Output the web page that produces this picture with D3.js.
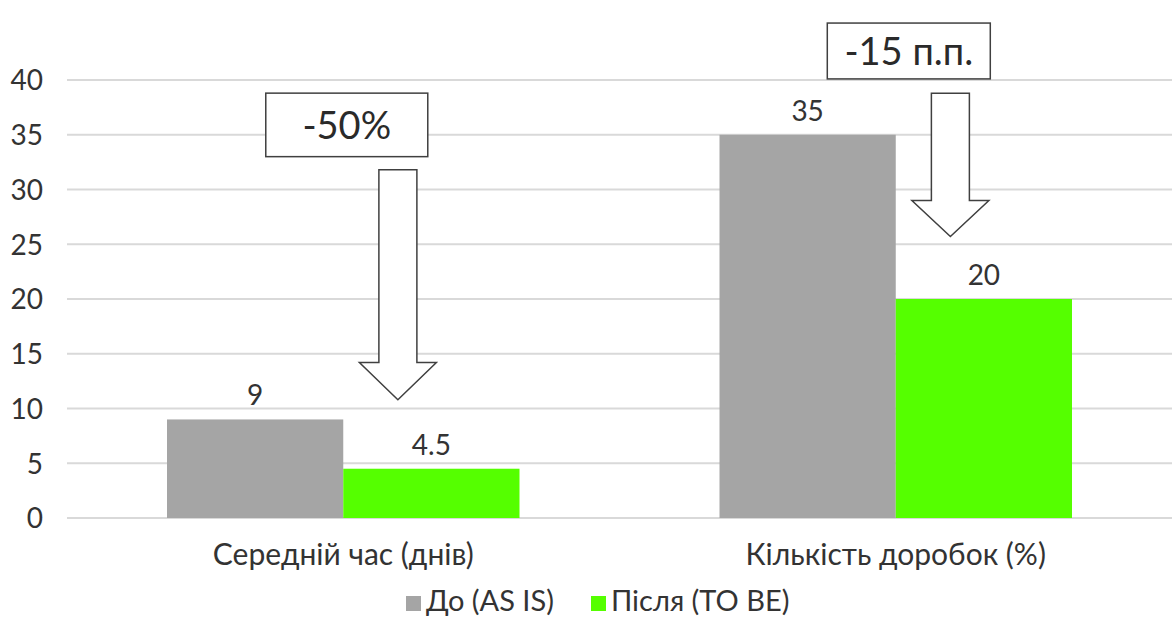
<!DOCTYPE html>
<html>
<head>
<meta charset="utf-8">
<script src="https://cdn.jsdelivr.net/npm/d3@7"></script>
<style>
  html, body { margin: 0; padding: 0; background: #fff; }
  svg { display: block; font-family: Lato, "Open Sans", sans-serif; }
</style>
</head>
<body>
<svg id="chart" width="1176" height="619"></svg>
<script>
// Categories and series
const categories = ["Середній час (днів)", "Кількість доробок (%)"];
const seriesNames = ["До (AS IS)", "Після (TO BE)"];
const beforeValues = [9, 35];
const afterValues = [4.5, 20];
const valueLabels = [["9", "4.5"], ["35", "20"]];
const yTicks = [0, 5, 10, 15, 20, 25, 30, 35, 40];

// Change callouts: text, box span and arrow span on the value axis
const calloutText = ["-50%", "-15 п.п."];
const calloutBoxTop = [38.8, 45.2];
const calloutBoxBottom = [33, 40.1];
const arrowTop = [31.8, 38.8];
const arrowHeadStart = [14.2, 29];
const arrowTip = [10.8, 25.7];

const colors = ["#a5a5a5", "#55ff00"];
const textColor = "#333333";
const fontSize = 28;

const svg = d3.select("#chart");
const margin = { left: 67, right: 4, top: 80, bottom: 101 };
const W = 1176, H = 619;

const x0 = d3.scaleBand()
  .domain(categories)
  .range([margin.left, W - margin.right])
  .paddingInner(0.362)
  .paddingOuter(0.181);

const x1 = d3.scaleBand()
  .domain([0, 1])
  .range([0, x0.bandwidth()]);

const y = d3.scaleLinear()
  .domain([0, 40])
  .range([H - margin.bottom, margin.top]);

// Gridlines
svg.append("g")
  .selectAll("line")
  .data(yTicks)
  .join("line")
  .attr("x1", margin.left)
  .attr("x2", W - margin.right)
  .attr("y1", d => y(d))
  .attr("y2", d => y(d))
  .attr("stroke", "#d9d9d9")
  .attr("stroke-width", 2);

// Y axis labels
const yAxis = svg.append("g")
  .attr("transform", `translate(${margin.left - 24},0)`)
  .call(d3.axisLeft(y).tickValues(yTicks).tickSize(0).tickPadding(0));
yAxis.select(".domain").remove();
yAxis.selectAll("text")
  .attr("font-size", fontSize)
  .attr("font-family", "Lato, 'Open Sans', sans-serif")
  .attr("fill", textColor)
  .attr("dy", "0.35em");

// Bars
const groups = svg.append("g")
  .selectAll("g")
  .data(categories.map((c, i) => ({ c, i, vals: [beforeValues[i], afterValues[i]] })))
  .join("g")
  .attr("transform", d => `translate(${x0(d.c)},0)`);

groups.selectAll("rect")
  .data(d => d.vals.map((v, s) => ({ v, s })))
  .join("rect")
  .attr("x", d => x1(d.s))
  .attr("y", d => y(d.v))
  .attr("width", x1.bandwidth())
  .attr("height", d => y(0) - y(d.v))
  .attr("fill", d => colors[d.s]);

// Value labels
groups.selectAll("text.val")
  .data(d => d.vals.map((v, s) => ({ v, s, label: valueLabels[d.i][s] })))
  .join("text")
  .attr("class", "val")
  .attr("x", d => x1(d.s) + x1.bandwidth() / 2)
  .attr("y", d => y(d.v) - 14)
  .attr("text-anchor", "middle")
  .attr("font-size", fontSize)
  .attr("fill", textColor)
  .text(d => d.label);

// Category labels
svg.append("g")
  .selectAll("text")
  .data(categories)
  .join("text")
  .attr("x", d => x0(d) + x0.bandwidth() / 2)
  .attr("y", H - margin.bottom + 47)
  .attr("text-anchor", "middle")
  .attr("font-size", 30)
  .attr("fill", textColor)
  .text(d => d);

// Callout boxes with hollow down arrows
categories.forEach((c, i) => {
  const bx = x0(c);
  const bw = x0.bandwidth();
  const boxCx = bx + bw * (i === 0 ? 0.51 : 0.537);
  const boxW = i === 0 ? 162 : 163;
  const top = y(calloutBoxTop[i]);
  const bottom = y(calloutBoxBottom[i]);
  svg.append("rect")
    .attr("x", boxCx - boxW / 2)
    .attr("y", top)
    .attr("width", boxW)
    .attr("height", bottom - top)
    .attr("fill", "#fff")
    .attr("stroke", "#404040")
    .attr("stroke-width", 1.5);
  svg.append("text")
    .attr("x", boxCx)
    .attr("y", (top + bottom) / 2)
    .attr("dy", "0.36em")
    .attr("text-anchor", "middle")
    .attr("font-size", 38)
    .attr("fill", "#2a2a2a")
    .text(calloutText[i]);

  const ax = bx + bw * 0.655;
  const shaftHalf = 19;
  const headHalf = 38.5;
  const aTop = y(arrowTop[i]);
  const aHead = y(arrowHeadStart[i]);
  const aTip = y(arrowTip[i]);
  const pts = [
    [ax - shaftHalf, aTop], [ax + shaftHalf, aTop], [ax + shaftHalf, aHead],
    [ax + headHalf, aHead], [ax, aTip], [ax - headHalf, aHead],
    [ax - shaftHalf, aHead]
  ];
  svg.append("path")
    .attr("d", d3.line()(pts) + "Z")
    .attr("fill", "#fff")
    .attr("stroke", "#404040")
    .attr("stroke-width", 1.5);
});

// Legend
const legend = svg.append("g").attr("transform", `translate(0, 604)`);
const legendItems = [{ x: 406, s: 0 }, { x: 591, s: 1 }];
legendItems.forEach(it => {
  legend.append("rect")
    .attr("x", it.x)
    .attr("y", -8)
    .attr("width", 15)
    .attr("height", 15)
    .attr("fill", colors[it.s]);
  legend.append("text")
    .attr("x", it.x + 20)
    .attr("y", 7)
    .attr("font-size", 29)
    .attr("fill", textColor)
    .text(seriesNames[it.s]);
});
</script>
</body>
</html>
